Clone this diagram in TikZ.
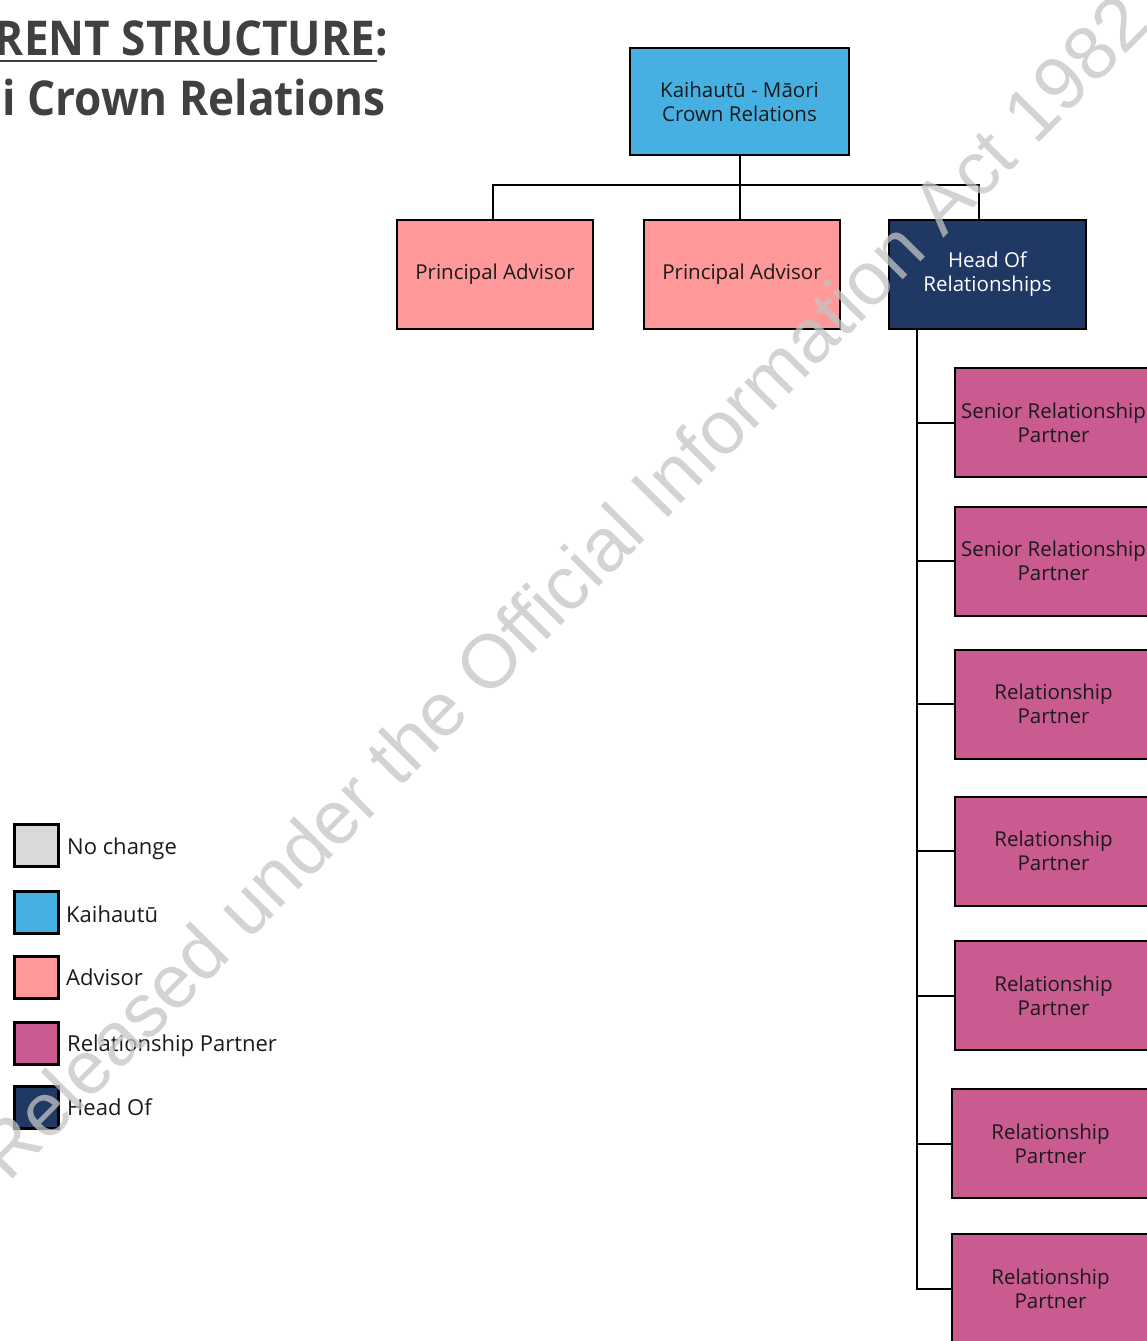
\documentclass[tikz,border=0pt]{standalone}
\usepackage{fontspec}
\setmainfont{Open Sans}
\newfontfamily\wmfont{Liberation Sans}
\usetikzlibrary{calc}
\definecolor{kblue}{HTML}{45B0E1}
\definecolor{advpink}{HTML}{FF9999}
\definecolor{rpmag}{HTML}{C95B91}
\definecolor{navy}{HTML}{1F3864}
\definecolor{nochg}{HTML}{D9D9D9}
\definecolor{titlegray}{HTML}{404040}
\definecolor{txtdark}{HTML}{1A1A1A}
\definecolor{wmgray}{HTML}{C4C4C4}
\tikzset{
  orgbox/.style={draw=black, line width=2pt, rectangle, inner sep=0pt, align=center,
    text=txtdark, font=\fontsize{20.5}{24}\selectfont},
  rpbox/.style={orgbox, fill=rpmag, minimum width=197pt, minimum height=109pt},
  legsq/.style={draw=black, line width=3pt, rectangle, inner sep=0pt, minimum width=44pt, minimum height=42pt},
  legtxt/.style={anchor=west, inner sep=0pt, text=txtdark, font=\fontsize{22}{26}\selectfont},
  conn/.style={draw=black, line width=2pt},
}
\begin{document}
\begin{tikzpicture}[x=1pt,y=-1pt]
\useasboundingbox (0,0) rectangle (1146,1341);
% title
\node[anchor=base east, inner sep=0pt, text=titlegray, font=\bfseries\fontsize{48}{56}\selectfont] (t1) at (388,55) {\scalebox{0.92}[1]{RENT STRUCTURE:}};
\draw[titlegray, line width=2.5pt] (0,61) -- (377,61);
\node[anchor=base east, inner sep=0pt, text=titlegray, font=\bfseries\fontsize{48}{56}\selectfont] (t2) at (386,115) {\scalebox{0.92}[1]{i Crown Relations}};
% top boxes
\node[orgbox, fill=kblue, minimum width=219pt, minimum height=107pt] (k) at (739.5,101.5) {Kaihautū - Māori\\Crown Relations};
\node[orgbox, fill=advpink, minimum width=196pt, minimum height=109pt] (pa1) at (495,274.5) {Principal Advisor};
\node[orgbox, fill=advpink, minimum width=196pt, minimum height=109pt] (pa2) at (742,274.5) {Principal Advisor};
\node[orgbox, fill=navy, text=white, minimum width=197pt, minimum height=109pt] (hor) at (987.5,274.5) {Head Of\\Relationships};
% relationship partners
\node[rpbox] (rp1) at (1053.5,422.5) {Senior Relationship\\Partner};
\node[rpbox] (rp2) at (1053.5,561) {Senior Relationship\\Partner};
\node[rpbox] (rp3) at (1053.5,704) {Relationship\\Partner};
\node[rpbox] (rp4) at (1053.5,851) {Relationship\\Partner};
\node[rpbox] (rp5) at (1053.5,995.5) {Relationship\\Partner};
\node[rpbox] (rp6) at (1050.5,1143.5) {Relationship\\Partner};
\node[rpbox] (rp7) at (1050.5,1288.5) {Relationship\\Partner};
% connectors
\coordinate (bj) at (740,185);
\coordinate (hd) at ($(hor.north)+(-8.5,0)$);
\coordinate (tr) at ($(hor.south)+(-70.5,0)$);
\draw[conn] (k.south) -- (k.south |- pa2.north);
\draw[conn] ($(pa1.north)+(-2,0)$) |- (hd |- bj) -- (hd);
\draw[conn] (tr) |- (rp7.west);
\foreach \r in {rp1,rp2,rp3,rp4,rp5,rp6} {
  \draw[conn] (tr |- \r.west) -- (\r.west);
}
% legend
\node[legsq, fill=nochg] (l1) at (36,845) {};
\node[legtxt] (lt1) at (67,849) {No change};
\node[legsq, fill=kblue] (l2) at (36,912) {};
\node[legtxt] (lt2) at (66,914) {Kaihautū};
\node[legsq, fill=advpink] (l3) at (36,977) {};
\node[legtxt] (lt3) at (66,977) {Advisor};
\node[legsq, fill=rpmag] (l4) at (36,1043.5) {};
\node[legtxt] (lt4) at (67,1046) {Relationship Partner};
\node[legsq, fill=navy] (l5) at (36,1107) {};
\node[legtxt] (lt5) at (67,1107) {Head Of};
% watermark
\node[rotate=45.3, inner sep=0pt, text=wmgray, opacity=0.75, font=\wmfont\fontsize{75.5}{80}\selectfont] (wm) at (562,586) {Released under the Official Information Act 1982};
\end{tikzpicture}
\end{document}
